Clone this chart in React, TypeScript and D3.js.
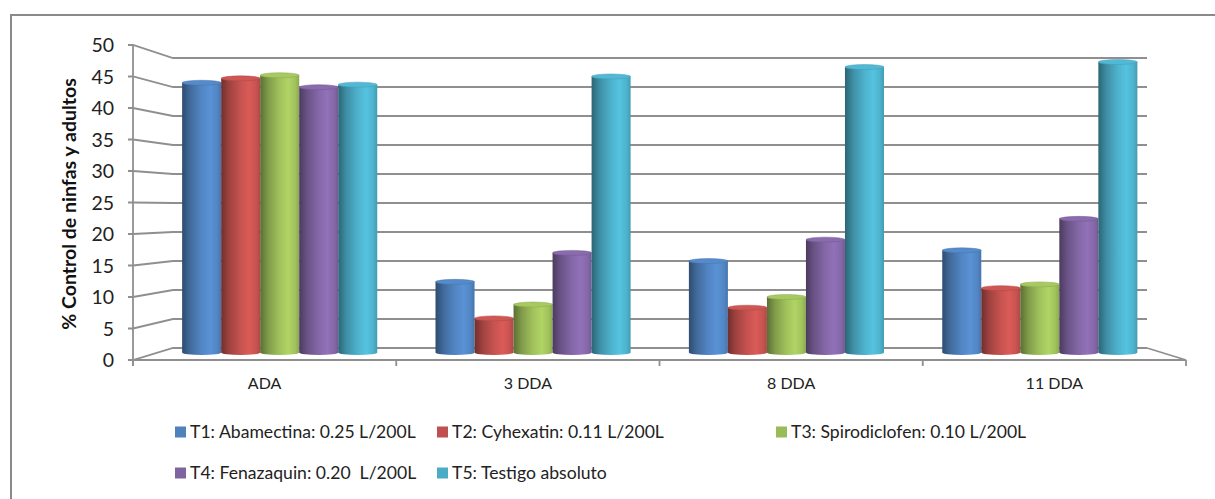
import { useEffect, useRef } from "react";
import * as d3 from "d3";

const categories = ["ADA", "3 DDA", "8 DDA", "11 DDA"];
const seriesNames = [
  "T1: Abamectina: 0.25 L/200L",
  "T2: Cyhexatin: 0.11 L/200L",
  "T3: Spirodiclofen: 0.10 L/200L",
  "T4: Fenazaquin: 0.20  L/200L",
  "T5: Testigo absoluto",
];
const seriesColors = ["#4F81BD", "#C0504D", "#9BBB59", "#8064A2", "#4BACC6"];
const t1 = [44.4, 12.8, 16.1, 17.8];
const t2 = [45.1, 7.0, 8.7, 11.8];
const t3 = [45.6, 9.2, 10.4, 12.4];
const t4 = [43.7, 17.4, 19.5, 22.8];
const t5 = [44.1, 45.4, 46.9, 47.7];
const seriesValues = [t1, t2, t3, t4, t5];
const yTicks = [0, 5, 10, 15, 20, 25, 30, 35, 40, 45, 50];
const yTitle = "% Control de ninfas y adultos";

const FONT = "Lato, 'Open Sans', sans-serif";

export default function App() {
  const ref = useRef<SVGSVGElement>(null);

  useEffect(() => {
    if (!ref.current) return;
    const svg = d3.select(ref.current);
    svg.selectAll("*").remove();

    const yFront = d3.scaleLinear().domain([0, 50]).range([360, 45]);
    const yBack = d3.scaleLinear().domain([0, 50]).range([348, 58]);
    const xFront = d3.scaleBand().domain(categories).range([133, 1186]);
    const xBack = d3.scaleBand().domain(categories).range([173, 1147]);
    const xMid = d3
      .scaleBand()
      .domain(categories)
      .range([153, 1166.5])
      .paddingInner(0.23)
      .paddingOuter(0.115);
    const x1 = d3
      .scaleBand()
      .domain(seriesNames)
      .range([0, xMid.bandwidth()]);

    const grid = "#8f8f8f";

    // outer frame
    svg.append("rect")
      .attr("x", 11).attr("y", 15)
      .attr("width", 1230).attr("height", 520)
      .attr("fill", "#fff")
      .attr("stroke", "#8a8a8a")
      .attr("stroke-width", 2);

    // gradients
    const defs = svg.append("defs");
    seriesColors.forEach((c, i) => {
      const base = d3.color(c)!;
      const g = defs.append("linearGradient")
        .attr("id", `cyl${i}`)
        .attr("x1", 0).attr("x2", 1).attr("y1", 0).attr("y2", 0);
      const stops: [number, string][] = [
        [0, base.darker(1.5).formatHex()],
        [0.2, base.darker(0.55).formatHex()],
        [0.5, base.brighter(0.1).formatHex()],
        [0.72, base.brighter(0.35).formatHex()],
        [0.9, base.brighter(0.1).formatHex()],
        [1, base.darker(0.3).formatHex()],
      ];
      stops.forEach(([o, col]) => g.append("stop").attr("offset", o).attr("stop-color", col));
    });

    // side wall lines + back wall gridlines
    yTicks.forEach((v) => {
      svg.append("path")
        .attr("d", `M128,${yFront(v)} L133,${yFront(v)} L${xBack.range()[0]},${yBack(v)} L${xBack.range()[1]},${yBack(v)}`)
        .attr("fill", "none")
        .attr("stroke", grid)
        .attr("stroke-width", 1.8);
    });

    // floor
    const [fx0, fx1] = xFront.range();
    const [, bx1] = xBack.range();
    svg.append("path")
      .attr("d", `M${fx0},${yFront(0)} L${fx1},${yFront(0)} L${bx1},${yBack(0)}`)
      .attr("fill", "none")
      .attr("stroke", grid)
      .attr("stroke-width", 1.8);
    svg.append("line")
      .attr("x1", fx0).attr("x2", fx0)
      .attr("y1", yFront(50)).attr("y2", yFront(0) + 6)
      .attr("stroke", grid).attr("stroke-width", 1.8);
    [...categories.map((c) => xFront(c)!), fx1].forEach((x) => {
      svg.append("line")
        .attr("x1", x).attr("x2", x)
        .attr("y1", yFront(0)).attr("y2", yFront(0) + 6)
        .attr("stroke", grid).attr("stroke-width", 1.8);
    });

    // cylinders
    const ry = 2.5;
    const yb = 352.5;
    categories.forEach((cat, ci) => {
      seriesNames.forEach((s, si) => {
        const v = seriesValues[si][ci];
        const x0 = xMid(cat)! + x1(s)!;
        const w = x1.bandwidth();
        const rx = w / 2;
        const yt = yFront(v) + ry;
        const base = d3.color(seriesColors[si])!;
        svg.append("path")
          .attr("d", `M${x0},${yt} L${x0},${yb} A${rx},${ry} 0 0 0 ${x0 + w},${yb} L${x0 + w},${yt} Z`)
          .attr("fill", `url(#cyl${si})`);
        svg.append("ellipse")
          .attr("cx", x0 + rx).attr("cy", yt)
          .attr("rx", rx).attr("ry", ry)
          .attr("fill", base.brighter(0.2).formatHex())
          .attr("stroke", base.darker(0.3).formatHex())
          .attr("stroke-width", 0.5);
      });
    });

    // y tick labels
    svg.append("g")
      .selectAll("text")
      .data(yTicks)
      .join("text")
      .attr("x", 114)
      .attr("y", (d) => yFront(d))
      .attr("dy", "0.36em")
      .attr("text-anchor", "end")
      .attr("font-family", FONT)
      .attr("font-size", 19.5)
      .attr("fill", "#222")
      .text((d) => d);

    // y title
    svg.append("text")
      .attr("transform", `translate(76,204) rotate(-90)`)
      .attr("text-anchor", "middle")
      .attr("font-family", FONT)
      .attr("font-weight", "bold")
      .attr("font-size", 19.5)
      .attr("fill", "#111")
      .text(yTitle);

    // x labels
    svg.append("g")
      .selectAll("text")
      .data(categories)
      .join("text")
      .attr("x", (d) => xFront(d)! + xFront.bandwidth() / 2)
      .attr("y", 389)
      .attr("text-anchor", "middle")
      .attr("font-family", FONT)
      .attr("font-size", 16)
      .attr("fill", "#222")
      .text((d) => d);

    // legend
    const legendPos = [
      [175, 432], [437, 432], [776, 432],
      [175, 473], [437, 473],
    ];
    seriesNames.forEach((s, i) => {
      const [lx, ly] = legendPos[i];
      svg.append("rect")
        .attr("x", lx).attr("y", ly - 5.5)
        .attr("width", 11).attr("height", 11)
        .attr("fill", seriesColors[i]);
      svg.append("text")
        .attr("x", lx + 15)
        .attr("y", ly)
        .attr("dy", "0.36em")
        .attr("font-family", FONT)
        .attr("font-size", 17.6)
        .attr("fill", "#222")
        .attr("xml:space", "preserve")
        .style("white-space", "pre")
        .text(s);
    });
  }, []);

  return (
    <svg
      ref={ref}
      width={1215}
      height={499}
      style={{ position: "absolute", left: 0, top: 0, display: "block" }}
    />
  );
}
